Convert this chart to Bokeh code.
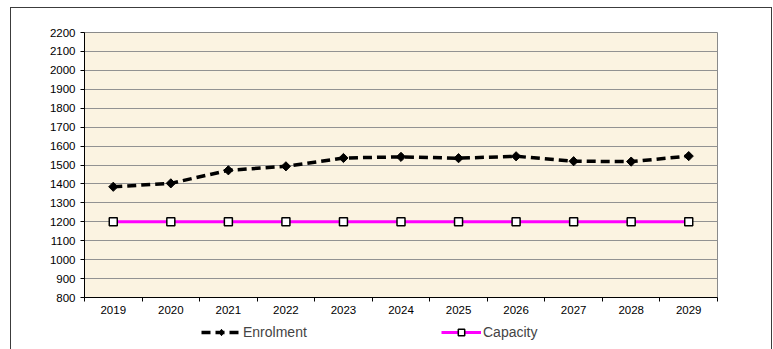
from bokeh.plotting import figure
from bokeh.layouts import column
from bokeh.models import FixedTicker, Legend, LegendItem, Range1d
from bokeh.embed import file_html
from bokeh.resources import INLINE

years = [2019, 2020, 2021, 2022, 2023, 2024, 2025, 2026, 2027, 2028, 2029]
enrolment = [1385, 1403, 1472, 1493, 1537, 1543, 1536, 1546, 1520, 1518, 1547]
capacity = [1200, 1200, 1200, 1200, 1200, 1200, 1200, 1200, 1200, 1200, 1200]
y_ticks = list(range(800, 2201, 100))

FONT = "Liberation Sans"

ENR = dict(line_color="black", line_width=3.5, line_dash="9 5")
ENR_M = dict(marker="square", size=6.5, angle=0.785398, fill_color="black", line_color="black")
CAP = dict(line_color="#FF00FF", line_width=3)
CAP_M = dict(marker="square", size=8, fill_color="white", line_color="black", line_width=1.5)

p = figure(width=760, height=313, output_backend="svg", toolbar_location=None,
           x_range=Range1d(years[0] - 0.5, years[-1] + 0.5),
           y_range=Range1d(800, 2200),
           min_border_left=73, min_border_top=24, min_border_right=54,
           min_border_bottom=24, frame_width=633, frame_height=265)
p.background_fill_color = "#FBF3E1"
p.border_fill_color = "white"
p.outline_line_color = "#8a8a8a"
p.outline_line_width = 1

p.xgrid.grid_line_color = None
p.ygrid.grid_line_color = "#929292"
p.ygrid.grid_line_width = 1

centers = [float(y) for y in years]
bounds = [y - 0.5 for y in years] + [years[-1] + 0.5]
p.xaxis.ticker = FixedTicker(ticks=centers, minor_ticks=bounds)
p.xaxis.major_label_overrides = {float(y): str(y) for y in years}
p.xaxis.major_tick_line_color = None
p.xaxis.major_tick_out = 4
p.xaxis.major_tick_in = 0
p.xaxis.minor_tick_line_color = "black"
p.xaxis.minor_tick_out = 4
p.xaxis.minor_tick_in = 0
p.xaxis.major_label_standoff = 4

p.yaxis.ticker = FixedTicker(ticks=y_ticks)
p.yaxis.major_tick_out = 4
p.yaxis.major_tick_in = 0
p.yaxis.minor_tick_line_color = None
p.yaxis.major_label_standoff = 5

for ax in (p.xaxis[0], p.yaxis[0]):
    ax.axis_line_color = "black"
    ax.axis_line_width = 1
    ax.major_label_text_font = FONT
    ax.major_label_text_font_size = "11.5px"
    ax.major_label_text_color = "black"

p.line(years, enrolment, **ENR)
p.scatter(years, enrolment, **ENR_M)
p.line(years, capacity, **CAP)
p.scatter(years, capacity, **CAP_M)

# legend strip below the chart (its own renderers lie outside its tiny ranges)
lg = figure(width=760, height=28, output_backend="svg", toolbar_location=None,
            x_range=Range1d(0, 1), y_range=Range1d(0, 1),
            x_axis_type=None, y_axis_type=None, min_border=0)
lg.outline_line_color = None
lg.background_fill_color = "white"
lg.border_fill_color = "white"
lg.grid.grid_line_color = None
r1 = lg.line(years, enrolment, **ENR)
r2 = lg.scatter(years, enrolment, marker="diamond", size=10,
                fill_color="black", line_color="black")
r3 = lg.line(years, capacity, **CAP)
r4 = lg.scatter(years, capacity, **CAP_M)

legend = Legend(items=[LegendItem(label="Enrolment", renderers=[r1, r2]),
                       LegendItem(label="Capacity", renderers=[r3, r4])],
                orientation="horizontal", location=(117, 9),
                spacing=79, glyph_width=40, glyph_height=16, label_standoff=2,
                label_width=119, label_height=16,
                label_text_font=FONT, label_text_font_size="14px",
                background_fill_alpha=0, border_line_color=None,
                padding=0, margin=0)
lg.add_layout(legend, "center")

layout = column(p, lg, spacing=0, margin=(7, 0, 0, 10),
                styles={"border": "1px solid #3c3c3c"})

open("out.html", "w").write(file_html(layout, INLINE))
